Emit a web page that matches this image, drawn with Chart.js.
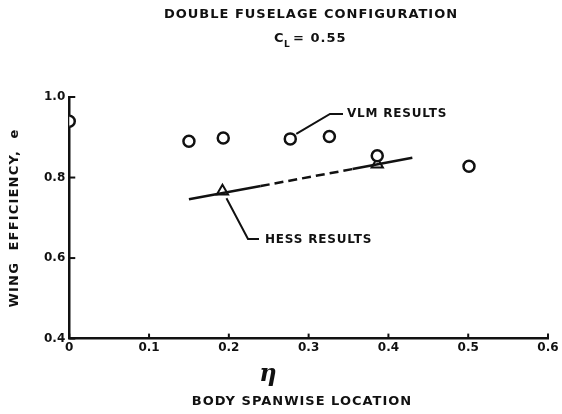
<!DOCTYPE html>
<html>
<head>
<meta charset="utf-8">
<script src="https://cdn.jsdelivr.net/npm/chart.js@4.4.0/dist/chart.umd.min.js"></script>
<style>
  html, body { margin: 0; padding: 0; background: #fff; }
  #wrap { width: 562px; height: 414px; }
</style>
</head>
<body>
<div id="wrap"><canvas id="myChart" width="562" height="414"></canvas></div>
<script>
// values
const vlmEta = [0.0, 0.15, 0.193, 0.277, 0.326, 0.386, 0.501];
const vlmE   = [0.94, 0.89, 0.898, 0.896, 0.902, 0.854, 0.828];

const hessEta = [0.192, 0.386];
const hessE   = [0.766, 0.833];

// faired line through HESS results (solid / dashed / solid)
const fairEta = [0.15, 0.24, 0.355, 0.43];
const fairE   = [0.746, 0.779, 0.821, 0.849];

const xTicks = [0, 0.1, 0.2, 0.3, 0.4, 0.5, 0.6];
const yTicks = [0.4, 0.6, 0.8, 1.0];

const INK = '#111';
const FONT = "'DejaVu Sans', sans-serif";

function toPoints(xs, ys) {
  return xs.map((x, i) => ({ x: x, y: ys[i] }));
}

function spaced(ctx, txt, x, y, sp) {
  ctx.letterSpacing = sp + 'px';
  ctx.fillText(txt, x, y);
  ctx.letterSpacing = '0px';
}

// texts, leaders and inward ticks
const decor = {
  id: 'decor',
  afterDraw(chart) {
    const ctx = chart.ctx;
    const xs = chart.scales.x, ys = chart.scales.y;
    const area = chart.chartArea;
    ctx.save();
    ctx.strokeStyle = INK;
    ctx.fillStyle = INK;
    ctx.lineWidth = 2;

    // inward ticks
    xTicks.forEach(v => {
      const px = xs.getPixelForValue(v);
      ctx.beginPath();
      ctx.moveTo(px, area.bottom);
      ctx.lineTo(px, area.bottom - 5);
      ctx.stroke();
    });
    yTicks.forEach(v => {
      const py = ys.getPixelForValue(v);
      ctx.beginPath();
      ctx.moveTo(area.left, py);
      ctx.lineTo(area.left + 6, py);
      ctx.stroke();
    });

    // titles
    ctx.textAlign = 'center';
    ctx.textBaseline = 'middle';
    ctx.font = 'bold 13px ' + FONT;
    spaced(ctx, 'DOUBLE FUSELAGE CONFIGURATION', 311, 15, 1);
    ctx.textAlign = 'left';
    ctx.fillText('C', 274, 39);
    ctx.font = 'bold 9px ' + FONT;
    ctx.fillText('L', 284, 45);
    ctx.font = 'bold 13px ' + FONT;
    spaced(ctx, '= 0.55', 293, 39, 1);

    ctx.textAlign = 'center';
    ctx.font = 'italic bold 24px "DejaVu Serif", serif';
    ctx.fillText('\u03B7', 268, 375);
    ctx.font = 'bold 13px ' + FONT;
    spaced(ctx, 'BODY SPANWISE LOCATION', 302, 402, 1);

    ctx.save();
    ctx.translate(15, 218);
    ctx.rotate(-Math.PI / 2);
    spaced(ctx, 'WING  EFFICIENCY,  e', 0, 0, 1.2);
    ctx.restore();

    // VLM leader
    ctx.lineWidth = 2;
    ctx.beginPath();
    ctx.moveTo(xs.getPixelForValue(0.277) + 6, ys.getPixelForValue(0.896) - 5);
    ctx.lineTo(330, 114);
    ctx.lineTo(343, 114);
    ctx.stroke();
    ctx.textAlign = 'left';
    ctx.font = 'bold 12px ' + FONT;
    spaced(ctx, 'VLM RESULTS', 347, 114, 0.8);

    // HESS leader
    ctx.beginPath();
    ctx.moveTo(xs.getPixelForValue(0.192) + 4, ys.getPixelForValue(0.766) + 7);
    ctx.lineTo(248, 239);
    ctx.lineTo(259, 239);
    ctx.stroke();
    spaced(ctx, 'HESS RESULTS', 265, 240, 0.8);

    ctx.restore();
  }
};

new Chart(document.getElementById('myChart'), {
  type: 'scatter',
  data: {
    datasets: [
      {
        label: 'fair',
        type: 'line',
        data: toPoints(fairEta, fairE),
        borderColor: INK,
        borderWidth: 2.5,
        pointRadius: 0,
        fill: false,
        segment: {
          borderDash: c => c.p0DataIndex === 1 ? [9, 5] : undefined
        }
      },
      {
        label: 'VLM RESULTS',
        data: toPoints(vlmEta, vlmE),
        pointStyle: 'circle',
        pointRadius: 5.5,
        pointBorderWidth: 2.5,
        pointBorderColor: INK,
        pointBackgroundColor: '#fff'
      },
      {
        label: 'HESS RESULTS',
        data: toPoints(hessEta, hessE),
        pointStyle: 'triangle',
        pointRadius: 6.5,
        pointBorderWidth: 2,
        pointBorderColor: INK,
        pointBackgroundColor: '#fff'
      }
    ]
  },
  options: {
    responsive: false,
    animation: false,
    layout: { padding: { left: 40, top: 97, right: 14, bottom: 57 } },
    plugins: {
      legend: { display: false },
      tooltip: { enabled: false }
    },
    scales: {
      x: {
        type: 'linear',
        min: 0, max: 0.6,
        afterBuildTicks: s => { s.ticks = xTicks.map(v => ({ value: v })); },
        grid: { display: true, drawOnChartArea: false, drawTicks: false },
        border: { display: true, color: INK, width: 2.5 },
        ticks: {
          color: INK,
          padding: 2,
          maxRotation: 0,
          font: { family: FONT, size: 12, weight: 'bold' },
          callback: v => v === 0 ? '0' : v.toFixed(1)
        }
      },
      y: {
        type: 'linear',
        min: 0.4, max: 1.0,
        afterBuildTicks: s => { s.ticks = yTicks.map(v => ({ value: v })); },
        grid: { display: true, drawOnChartArea: false, drawTicks: false },
        border: { display: true, color: INK, width: 2.5 },
        ticks: {
          color: INK,
          padding: 4,
          font: { family: FONT, size: 12, weight: 'bold' },
          callback: v => v.toFixed(1)
        }
      }
    }
  },
  plugins: [decor]
});
</script>
</body>
</html>
